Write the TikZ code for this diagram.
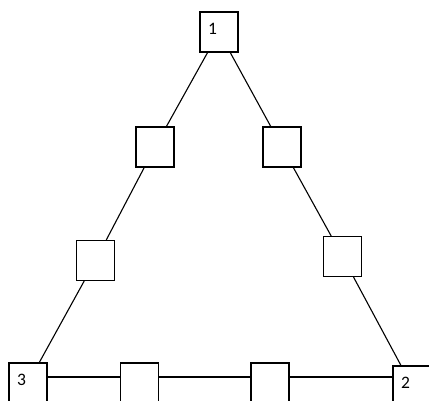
\documentclass[tikz,border=0pt]{standalone}
\usepackage{fontspec}
\setmainfont{Carlito}
\usepackage{tikz}
\tikzset{
    box/.style={draw,line width=1.1pt,minimum width=38pt,minimum height=40pt,inner sep=0pt},
    tag/.style={box,text width=22pt,align=left,inner xsep=8pt,inner ysep=0pt,
        text height=22pt,text depth=18pt,font=\fontsize{17.5}{19}\selectfont},
    wire/.style={line width=1.1pt}
}
\newcommand{\station}[4]{
    \node[tag] (#1) at (#2,#3) {#4};
}
\newcommand{\joint}[3]{
    \node[box] (#1) at (#2,#3) {};
}

\begin{document}
\begin{tikzpicture}[x=1pt,y=-1pt]
            \clip (0,0) rectangle (429,400);
            \station{n1}{219}{32}{1}
            \station{n3}{28}{383}{3}
            \station{n2}{412}{386}{2}
            \joint{la}{155}{147}
            \joint{lb}{95.5}{260.5}
            \joint{ra}{282}{147}
            \joint{rb}{342.5}{256.5}
            \joint{ba}{139.5}{383}
            \joint{bb}{270}{383}
            \draw[wire] (n1) -- (la);
            \draw[wire] (la) -- (lb);
            \draw[wire] (lb) -- (n3);
            \draw[wire] (n1) -- (ra);
            \draw[wire] (ra) -- (rb);
            \draw[wire] (rb) -- (n2);
            \draw[wire] ([yshift=6pt]n3.east) -- ([yshift=6pt]ba.west);
            \draw[wire] ([yshift=6pt]ba.east) -- ([yshift=6pt]bb.west);
            \draw[wire] ([yshift=6pt]bb.east) -- ([yshift=6pt]bb.east -| n2.west);
        \end{tikzpicture}
\end{document}
